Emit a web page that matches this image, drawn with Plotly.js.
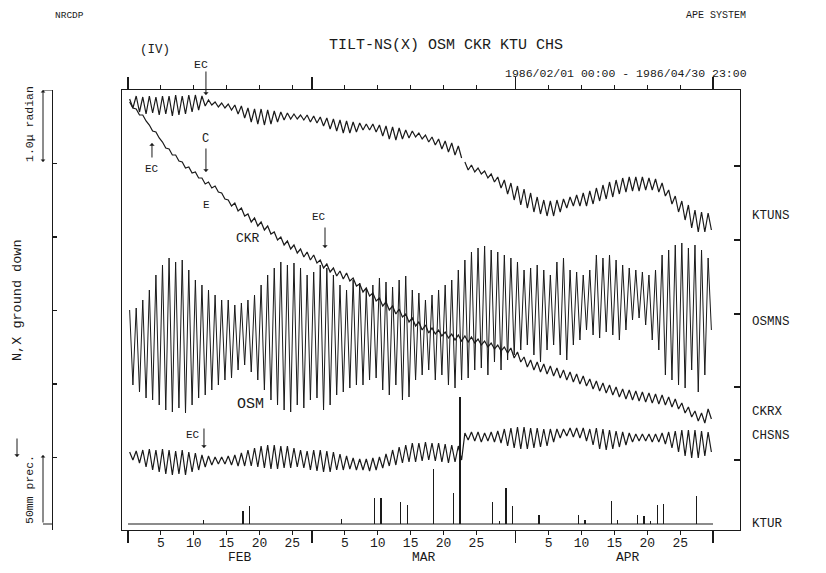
<!DOCTYPE html>
<html><head><meta charset="utf-8">
<script src="https://cdn.plot.ly/plotly-3.0.1.min.js"></script>
<style>html,body{margin:0;padding:0;background:#fff}#chart{width:826px;height:573px}</style>
</head><body><div id="chart"></div>
<script>
// ---- DATA (tilt values in chart units, ground-down positive; 73.5 units = 1.0 micro-radian) ----
// one high / one low reading per day, Feb 1 (day 0) .. Apr 30 (day 88)
const ktuHi = [99,96,97,96,97,96,96,95,96,95, 95,96,100,102,103,104,105,106,108,109, 109,110,111,112,113,114,115,115,116,117, 118,119,120,121,122,123,124,124,125,126, 127,128,130,131,133,135,137,139,141,143, 146,162,165,168,171,174,177,180,183,186, 189,193,197,200,201,200,199,197,195,193, 191,188,185,182,180,178,177,177,177,178, 179,183,190,196,201,205,210,212,213];
const ktuLo = [108,112,114,113,115,114,116,115,114,112, 110,106,105,107,108,110,114,118,122,124, 125,124,122,120,119,119,120,122,123,126, 129,131,133,133,132,130,130,132,136,139, 140,139,138,137,139,142,145,149,152,155, 158,170,172,174,178,182,188,194,200,205, 208,212,214,216,216,212,208,206,206,206, 204,201,199,197,194,192,191,191,190,190, 192,196,204,212,220,228,232,232,230];
const ktuGaps = [50];

const ckrHi = [102,109,115,125,132,142,149,155,162,167,172,178,182,186,193,200, 203,208,214,218,222,226,232,237,241,245,249,252,255,260,264,268,271,273,278,284,288,293,298,302,306,309,314,318,322,325, 328,330,332,334,335,336,337,339,341,343,345,347, 348,352,357,360,362,364,366,368,370,372,374,376,379,381,383,385,387,389,390,391,392,393,394,395,397,399,403,407,411,413,409];
const ckrLo = [108,115,121,131,138,148,155,161,168,173,178,184,188,192,199,206, 211,216,222,226,230,234,240,245,249,253,257,260,263,268,272,276,279,281,286,292,296,301,306,310,314,317,322,326,330,333, 334,336,338,340,341,342,343,345,347,349,351,353, 358,362,367,370,372,374,376,378,380,382,384,386,389,391,393,395,397,399,400,401,402,403,404,405,407,409,413,417,421,423,419];

const osmHi = [310,308,300,290,275,265,258,262,260,270, 280,285,290,295,300,300,305,303,300,295, 285,275,268,262,265,263,268,275,272,265, 268,275,285,290,280,283,290,285,278,282, 287,280,276,290,293,300,295,290,285,280, 270,260,252,248,246,250,252,255,258,262, 270,268,265,270,275,262,258,270,272,275, 270,255,258,255,260,265,268,270,272,275, 270,255,250,245,243,248,245,250,258];
const osmLo = [385,392,398,400,405,410,412,408,413,405, 398,395,390,385,380,378,370,365,372,380, 390,400,405,410,412,405,408,400,398,410, 405,395,392,388,385,385,380,378,390,395, 385,400,397,380,375,370,380,375,385,388, 380,378,370,368,375,362,370,360,355,350, 345,355,362,350,345,355,360,345,340,330, 335,338,332,335,340,330,320,318,325,340, 350,375,380,385,388,370,392,375,330];

const chsHi = [452,451,450,449,450,449,450,451,450,452, 453,455,456,457,457,456,455,453,450,448, 446,445,445,446,446,448,450,451,450,450, 451,452,454,456,458,459,459,458,457,454, 450,447,445,443,443,442,443,443,444,445, 446,433,432,432,433,432,431,429,428,427, 427,428,428,429,429,429,429,428,428,428, 429,428,429,430,431,432,433,434,434,434, 434,433,432,431,430,430,430,431,432];
const chsLo = [460,463,467,470,472,474,475,474,475,472, 470,467,465,464,464,465,466,466,466,467, 468,469,469,468,468,467,468,470,471,472, 472,470,470,469,470,470,471,470,468,466, 465,463,462,462,461,460,461,462,463,462, 460,440,441,442,441,442,443,446,448,449, 449,448,447,446,442,438,436,437,438,441, 445,449,450,449,447,445,442,441,441,442, 442,444,448,452,456,458,458,456,452];

// KTU daily precipitation (mm), by day index
const rainDay = [11,17,18,32,37,38,41,42,46,49,50,55,56,57,58,62,68,69,73,74,77,78,79,80,81,86];
const rainMm  = [3,10,13,4,19,19,16,14,41,23,94,16,2,27,13,7,7,3,17,3,7,6,2,14,15,21];

// axis ticks
const monthStarts = [0,28,59,89];
const monthNames = ['FEB','MAR','APR'];
const dayLabels = [5,10,15,20,25];
const rightTicks = [166,240,314,387,460];
const scaleTicks = [163.5,237,310.5,384,457.5];
const traceNames = ['KTUNS','OSMNS','CKRX','CHSNS','KTUR'];

// ---- build ----
function zig(hi, lo, gaps){
  const xs=[], ys=[];
  for(let d=0; d<hi.length; d++){
    xs.push(d+0.25, d+0.75); ys.push(hi[d], lo[d]);
    if(gaps && gaps.indexOf(d)>=0){ xs.push(d+0.9); ys.push(null); }
  }
  return {x:xs, y:ys};
}
const FONT = 'Liberation Mono, DejaVu Sans Mono, monospace';
const INK = '#1a1a1a';
function line(series, w){
  return {type:'scatter', mode:'lines', x:series.x, y:series.y, xaxis:'x', yaxis:'y',
    line:{color:INK, width:w}, connectgaps:false, hoverinfo:'skip', showlegend:false};
}
const traces = [
  line(zig(osmHi, osmLo), 1.0),
  line(zig(ktuHi, ktuLo, ktuGaps), 1.2),
  line(zig(ckrHi, ckrLo), 1.2),
  line(zig(chsHi, chsLo), 1.2),
  {type:'bar', x:rainDay.map(d=>d+0.5), y:rainMm, xaxis:'x', yaxis:'y4', width:0.2,
   marker:{color:INK, line:{width:0}}, hoverinfo:'skip', showlegend:false},
  {type:'scatter', mode:'lines', x:[monthStarts[0], monthStarts[monthStarts.length-1]], y:[0,0],
   xaxis:'x', yaxis:'y4', line:{color:INK, width:1.2}, hoverinfo:'skip', showlegend:false},
  {type:'scatter', mode:'lines', x:[0], y:[null], xaxis:'x2', yaxis:'y', hoverinfo:'skip', showlegend:false},
  {type:'scatter', mode:'lines', x:[0], y:[null], xaxis:'x', yaxis:'y2', hoverinfo:'skip', showlegend:false},
  {type:'scatter', mode:'lines', x:[0], y:[null], xaxis:'x', yaxis:'y3', hoverinfo:'skip', showlegend:false}
];

const tickVals=[], tickText=[];
for(let m=0;m<monthNames.length;m++){
  dayLabels.forEach(n=>{ tickVals.push(monthStarts[m]+n); tickText.push(String(n)); });
}

// geometry (pixels of the 826x573 page)
const W=826, H=573, L=40, R=26, T=90, B=43;
const PW=W-L-R, PH=H-T-B;
const px = v => (v-L)/PW;          // page x -> paper x
const py = v => (H-B-v)/PH;        // page y -> paper y
const XR = [-0.91, 93.1];
const YR = [530, 90];

const ann = [];
function txt(t, x, y, o){ ann.push(Object.assign({text:t, x:x, y:y, showarrow:false,
  xanchor:'center', yanchor:'middle', font:{family:FONT, size:11, color:INK}}, o)); }
function arr(x, yHead, yTail, o){ ann.push(Object.assign({text:'', x:x, y:yHead, ax:x, ay:yTail,
  xref:'x', yref:'y', axref:'x', ayref:'y', showarrow:true, arrowhead:1, arrowsize:0.9,
  arrowwidth:1, arrowcolor:INK}, o)); }
const P = {xref:'paper', yref:'paper'};

// header texts
txt('NRCDP', px(53), py(15), Object.assign({xanchor:'left', font:{family:FONT,size:9.5,color:INK}}, P));
txt('APE SYSTEM', px(748), py(16), Object.assign({xanchor:'right', font:{family:FONT,size:10,color:INK}}, P));
txt('(IV)', px(155), py(50), Object.assign({font:{family:FONT,size:12.5,color:INK}}, P));
txt('1986/02/01 00:00 - 1986/04/30 23:00', px(749), py(73), Object.assign({xanchor:'right', font:{family:FONT,size:11.5,color:INK}}, P));
// event marks
txt('EC', px(201), py(64), Object.assign({font:{family:FONT,size:11.5,color:INK}}, P));
arr(11.86, 95, 70);
txt('EC', 3.65, 169, {xref:'x', yref:'y'});
arr(3.65, 143, 159);
txt('C', 11.86, 139, {xref:'x', yref:'y', font:{family:FONT,size:12,color:INK}});
arr(11.86, 172, 147);
txt('E', 12.0, 205, {xref:'x', yref:'y'});
txt('CKR', 18.25, 238, {xref:'x', yref:'y', font:{family:FONT,size:13,color:INK}});
txt('EC', 29.05, 217, {xref:'x', yref:'y'});
arr(29.97, 248, 226);
txt('OSM', 18.6, 404, {xref:'x', yref:'y', font:{family:FONT,size:15,color:INK}});
txt('EC', 9.9, 435, {xref:'x', yref:'y'});
arr(11.56, 448, 427);
// right-hand trace names
const nameY = [216, 322, 412, 436, 524];
traceNames.forEach((n,i)=> txt(n, px(750), py(nameY[i]), Object.assign({xanchor:'left', font:{family:FONT,size:12.5,color:INK}}, P)));
// month names
monthNames.forEach((n,i)=> txt(n, monthStarts[i]+17, py(557), {xref:'x', yref:'paper', font:{family:FONT,size:13,color:INK}}));
// left scale texts
txt('1.0\u03bc radian', px(29), py(124), Object.assign({textangle:-90, font:{family:FONT,size:11.5,color:INK}}, P));
txt('N,X ground down', px(17), py(300), Object.assign({textangle:-90, font:{family:FONT,size:13.5,color:INK}}, P));
txt('50mm prec.', px(29), py(490), Object.assign({textangle:-90, font:{family:FONT,size:11.5,color:INK}}, P));
ann.push({text:'', xref:'paper', yref:'y', x:px(17), y:457, ax:0, ay:-20, showarrow:true, arrowhead:1, arrowsize:0.9, arrowwidth:1, arrowcolor:INK});
ann.push({text:'', xref:'paper', yref:'y', x:px(43), y:90, ax:px(43), ay:163.5, axref:'paper', ayref:'y', showarrow:true, arrowhead:1, startarrowhead:1, arrowside:'end+start', arrowsize:0.8, arrowwidth:1, arrowcolor:INK});
ann.push({text:'', xref:'paper', yref:'y', x:px(43), y:455, ax:px(43), ay:524, axref:'paper', ayref:'y', showarrow:true, arrowhead:1, arrowsize:0.8, arrowwidth:1, arrowcolor:INK});

const shapes = [
  {type:'line', xref:'paper', yref:'y', x0:px(43), x1:px(52), y0:90, y1:90, line:{color:INK,width:1}},
  {type:'line', xref:'paper', yref:'y', x0:px(43), x1:px(52), y0:524, y1:524, line:{color:INK,width:1}}
];

const axBase = {showgrid:false, zeroline:false, linecolor:INK, linewidth:1.2, tickcolor:INK, tickwidth:1.1};
const layout = {
  width:W, height:H, margin:{l:L, r:R, t:T, b:B}, paper_bgcolor:'#fff', plot_bgcolor:'#fff',
  font:{family:FONT, color:INK},
  title:{text:'TILT-NS(X) OSM CKR KTU CHS', x:446/W, xref:'container', y:1-44/H, yref:'container',
         xanchor:'center', yanchor:'middle', font:{family:FONT, size:15, color:INK}},
  showlegend:false, bargap:0,
  xaxis: Object.assign({}, axBase, {domain:[px(122), px(740)], range:XR, anchor:'y', showline:true,
    ticks:'outside', ticklen:4, tickmode:'array', tickvals:tickVals, ticktext:tickText, ticklabelstandoff:-4,
    tickfont:{family:FONT, size:13, color:INK},
    minor:{tickmode:'array', tickvals:monthStarts, ticks:'outside', ticklen:12, tickcolor:INK, tickwidth:1.2}}),
  xaxis2: Object.assign({}, axBase, {domain:[px(122), px(740)], range:XR, anchor:'y', overlaying:'x', side:'top',
    showline:true, ticks:'outside', ticklen:4, tickmode:'array', tickvals:tickVals, showticklabels:false,
    minor:{tickmode:'array', tickvals:monthStarts, ticks:'outside', ticklen:12, tickcolor:INK, tickwidth:1.2}}),
  yaxis: Object.assign({}, axBase, {domain:[0,1], range:YR, anchor:'x', showline:true, ticks:'', showticklabels:false}),
  yaxis2: Object.assign({}, axBase, {range:YR, anchor:'x', overlaying:'y', side:'right', showline:true,
    ticks:'inside', ticklen:6, tickmode:'array', tickvals:rightTicks, showticklabels:false}),
  yaxis3: Object.assign({}, axBase, {range:YR, anchor:'free', position:px(52), overlaying:'y', side:'left', showline:true,
    ticks:'inside', ticklen:4, tickmode:'array', tickvals:scaleTicks, showticklabels:false}),
  yaxis4: {range:[-4.44, 321.5], overlaying:'y', visible:false, showgrid:false, zeroline:false},
  annotations: ann, shapes: shapes
};
Plotly.newPlot('chart', traces, layout, {staticPlot:true, displayModeBar:false});
</script></body></html>
